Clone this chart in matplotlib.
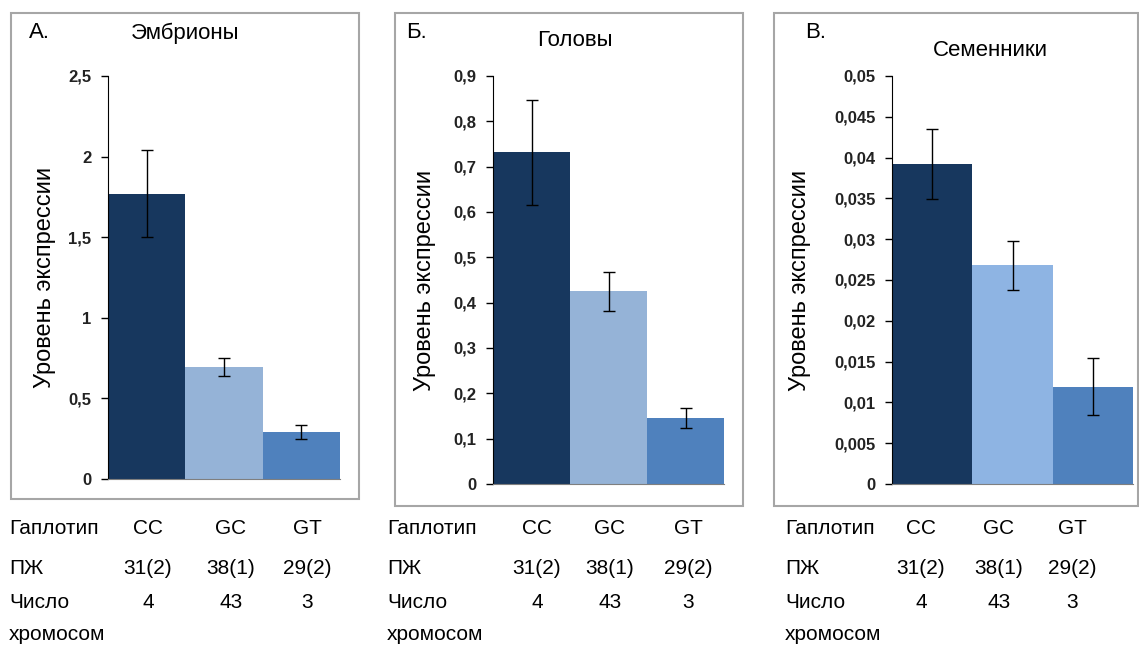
import matplotlib.pyplot as plt
from matplotlib.patches import Rectangle
from matplotlib.ticker import FuncFormatter

W, H = 1139, 645

haplotypes = ["CC", "GC", "GT"]
pzh = ["31(2)", "38(1)", "29(2)"]
n_chrom = ["4", "43", "3"]

embryo_vals = [1.77, 0.695, 0.293]
embryo_err = [0.27, 0.058, 0.045]
head_vals = [0.732, 0.425, 0.145]
head_err = [0.116, 0.043, 0.022]
testis_vals = [0.0392, 0.0268, 0.0119]
testis_err = [0.0043, 0.0030, 0.0035]

panels = [
    # letter, title, values, errors, ymax, tick step
    ("А.", "Эмбрионы", embryo_vals, embryo_err, 2.5, 0.5),
    ("Б.", "Головы", head_vals, head_err, 0.9, 0.1),
    ("В.", "Семенники", testis_vals, testis_err, 0.05, 0.005),
]

colors = [
    ["#17375E", "#95B3D7", "#4F81BD"],
    ["#17375E", "#95B3D7", "#4F81BD"],
    ["#17375E", "#8EB4E3", "#4F81BD"],
]

# pixel layout: box, axes, title/letter positions, table columns
boxes = [(11, 13, 359, 499), (395, 13, 743, 506), (774, 13, 1138, 506)]
axes_px = [(108, 76, 340, 479), (493, 76, 724, 484), (892, 76, 1133, 484)]
title_px = [(185, 33), (575, 40), (990, 50)]
letter_px = [(29, 33), (406, 33), (805, 33)]
ylabel_x = [45, 425, 800]
table_left = [9, 387, 785]
table_cols = [[148, 231, 307], [537, 610, 688], [921, 999, 1072]]
row_y = [528, 569, 602, 634]

fig = plt.figure(figsize=(W / 100, H / 100), dpi=100)
plt.rcParams['font.family'] = ['Liberation Sans', 'DejaVu Sans']


def fx(x):
    return x / W


def fy(y):
    return 1 - y / H


def comma_fmt(v, pos):
    s = ("%.3f" % v).rstrip("0").rstrip(".")
    return s.replace(".", ",")


for i, (letter, title, vals, errs, ymax, step) in enumerate(panels):
    x0, y0, x1, y1 = boxes[i]
    fig.patches.append(Rectangle((fx(x0), fy(y1)), fx(x1 - x0), (y1 - y0) / H,
                                 transform=fig.transFigure, fill=False,
                                 edgecolor="#A6A6A6", linewidth=1.5))

    l, t, r, b = axes_px[i]
    ax = fig.add_axes([fx(l), fy(b), fx(r - l), (b - t) / H])
    ax.bar(range(3), vals, width=1.0, color=colors[i], edgecolor="none")
    ax.errorbar(range(3), vals, yerr=errs, fmt="none", ecolor="black",
                elinewidth=1, capsize=4, capthick=1)
    ax.set_xlim(-0.5, 2.5)
    ax.set_ylim(0, ymax)
    n = int(round(ymax / step))
    ax.set_yticks([k * step for k in range(n + 1)])
    ax.yaxis.set_major_formatter(FuncFormatter(comma_fmt))
    ax.set_xticks([])
    for s in ["top", "right"]:
        ax.spines[s].set_visible(False)
    ax.spines["left"].set_color("black")
    ax.spines["bottom"].set_color("#7F7F7F")
    ax.tick_params(axis="y", direction="out", length=5, width=1,
                   labelsize=12, pad=7)
    for lab in ax.get_yticklabels():
        lab.set_fontweight("bold")
        lab.set_color("#222222")

    fig.text(fx(title_px[i][0]), fy(title_px[i][1]), title, ha="center",
             va="center", fontsize=16)
    fig.text(fx(letter_px[i][0]), fy(letter_px[i][1]), letter, ha="left",
             va="center", fontsize=16)
    fig.text(fx(ylabel_x[i]), fy((t + b) / 2), "Уровень экспрессии",
             rotation=90, ha="center", va="center", fontsize=17)

    # table under the panel
    rows = [("Гаплотип", haplotypes), ("ПЖ", pzh), ("Число", n_chrom)]
    for j, (name, cells) in enumerate(rows):
        fig.text(fx(table_left[i]), fy(row_y[j]), name, ha="left",
                 va="center", fontsize=15)
        for k, c in enumerate(cells):
            fig.text(fx(table_cols[i][k]), fy(row_y[j]), c, ha="center",
                     va="center", fontsize=15)
    fig.text(fx(table_left[i]), fy(row_y[3]), "хромосом", ha="left",
             va="center", fontsize=15)

fig.savefig("out.png", dpi=100)
